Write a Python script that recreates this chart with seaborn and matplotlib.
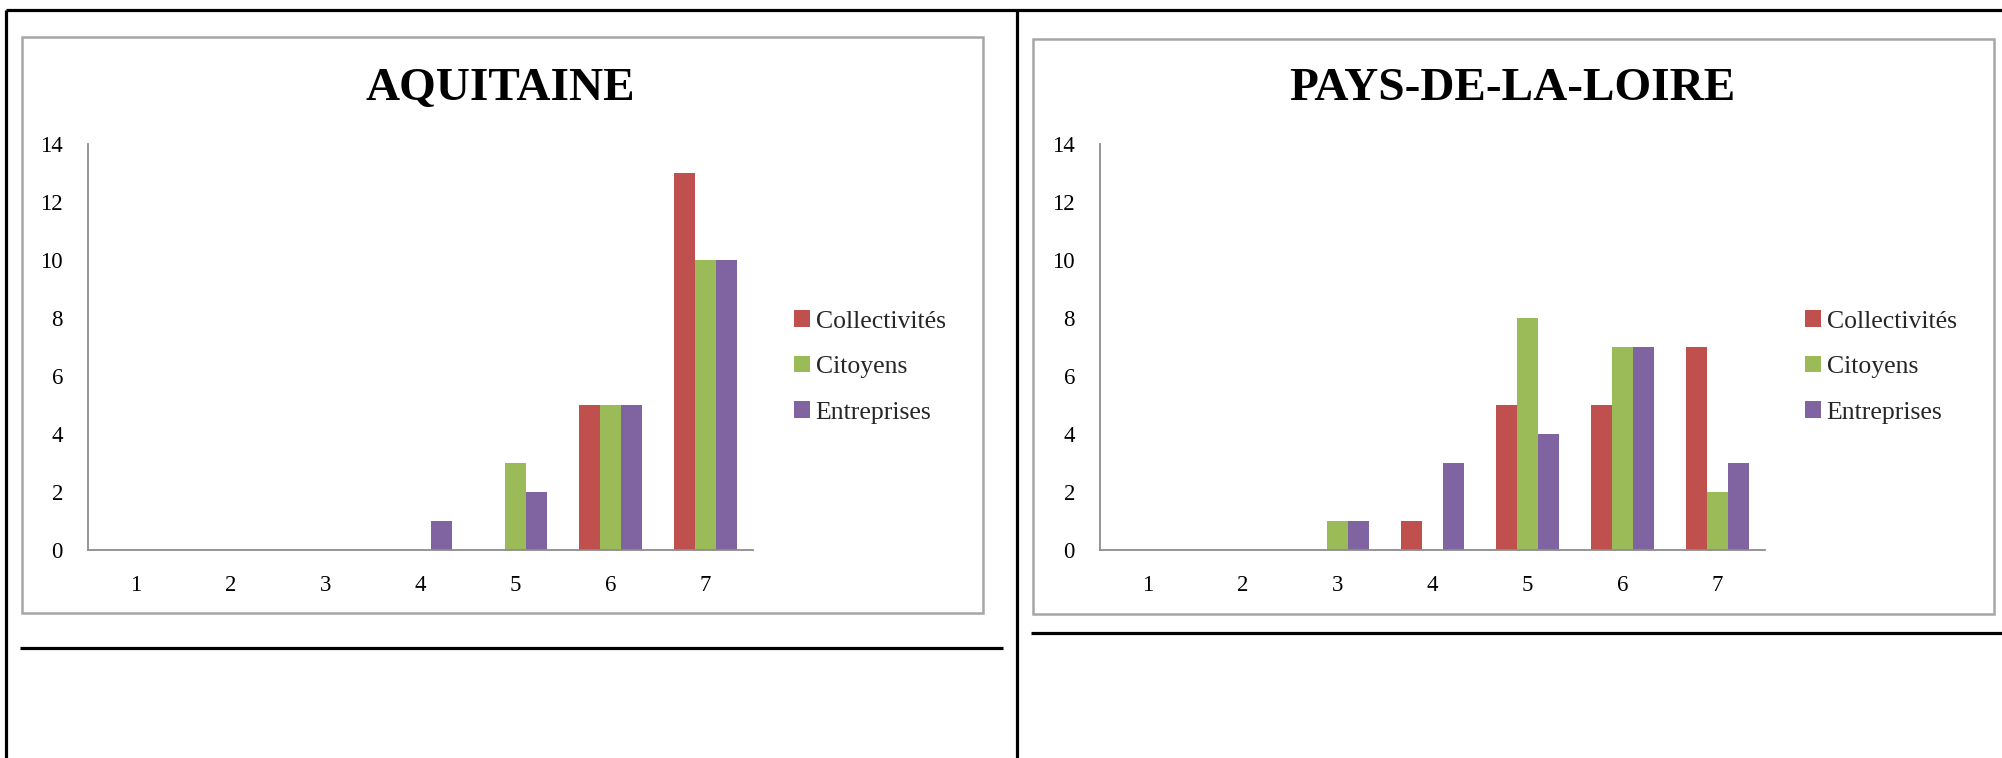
"""
Two grouped bar charts (Aquitaine / Pays-de-la-Loire) laid out like a scanned form.
"""

import pandas as pd
import matplotlib.pyplot as plt
import seaborn as sns
from matplotlib.lines import Line2D
from matplotlib.patches import Rectangle

# --- data -------------------------------------------------------------------
notes = ['1', '2', '3', '4', '5', '6', '7']
groupes = ['Collectivités', 'Citoyens', 'Entreprises']
colors = ['#C0504D', '#9BBB59', '#8064A2']

aquitaine_collectivites = [0, 0, 0, 0, 0, 5, 13]
aquitaine_citoyens = [0, 0, 0, 0, 3, 5, 10]
aquitaine_entreprises = [0, 0, 0, 1, 2, 5, 10]

loire_collectivites = [0, 0, 0, 1, 5, 5, 7]
loire_citoyens = [0, 0, 1, 0, 8, 7, 2]
loire_entreprises = [0, 0, 1, 3, 4, 7, 3]

titles = ['AQUITAINE', 'PAYS-DE-LA-LOIRE']
y_ticks = [0, 2, 4, 6, 8, 10, 12, 14]


def to_long(collectivites, citoyens, entreprises):
    rows = []
    for serie, values in zip(groupes, [collectivites, citoyens, entreprises]):
        for note, v in zip(notes, values):
            rows.append({'note': note, 'groupe': serie, 'count': v})
    return pd.DataFrame(rows)


panels = [
    to_long(aquitaine_collectivites, aquitaine_citoyens, aquitaine_entreprises),
    to_long(loire_collectivites, loire_citoyens, loire_entreprises),
]

# --- figure -----------------------------------------------------------------
sns.set_theme(style="white")
plt.rcParams['font.family'] = ['Liberation Serif', 'DejaVu Serif']

W, H = 2002, 758
fig = plt.figure(figsize=(W / 100, H / 100), dpi=100)
fig.patch.set_facecolor('white')


def fx(px):
    return px / W


def fy(py):
    return 1 - py / H


# outer form lines (black)
frame_lines = [
    ((6, 2002), (10, 10)),
    ((6, 6), (10, 758)),
    ((1017, 1017), (10, 758)),
    ((20, 1003), (648, 648)),
    ((1031, 2002), (633, 633)),
]
for xs, ys in frame_lines:
    fig.add_artist(Line2D([fx(x) for x in xs], [fy(y) for y in ys],
                          color='black', linewidth=2.3, solid_capstyle='butt'))

# grey chart boxes
boxes = [(22, 37, 983, 613), (1033, 39, 1994, 614)]
for x0, y0, x1, y1 in boxes:
    fig.add_artist(Rectangle((fx(x0), fy(y1)), fx(x1) - fx(x0), fy(y0) - fy(y1),
                             transform=fig.transFigure, fill=False,
                             edgecolor='#A6A6A6', linewidth=1.8))

axes_left = [88, 1100]
title_x = [500, 1512]
legend_x = [794, 1805]

for i, df in enumerate(panels):
    ax = fig.add_axes([fx(axes_left[i]), fy(550), fx(665), fy(144) - fy(550)])
    sns.barplot(data=df, x='note', y='count', hue='groupe', order=notes,
                hue_order=groupes, palette=colors, width=0.67, saturation=1,
                linewidth=0, ax=ax)
    ax.set_xlim(-0.5, 6.5)
    ax.set_ylim(0, 14)
    ax.set_yticks(y_ticks)
    ax.set_xlabel('')
    ax.set_ylabel('')
    sns.despine(ax=ax)
    for side in ['left', 'bottom']:
        ax.spines[side].set_color('#8C8C8C')
        ax.spines[side].set_linewidth(1.3)
    ax.tick_params(axis='y', length=0, pad=18, labelsize=16.5, labelcolor='black')
    ax.tick_params(axis='x', length=0, pad=18, labelsize=16.5, labelcolor='black')

    sns.move_legend(ax, loc='center left', bbox_to_anchor=(fx(legend_x[i]), fy(367)),
                    bbox_transform=fig.transFigure, frameon=False, title='',
                    fontsize=18.5, handlelength=0.62, handleheight=0.62,
                    handletextpad=0.22, labelspacing=0.9, borderpad=0,
                    borderaxespad=0)

    fig.text(fx(title_x[i]), fy(89), titles[i], ha='center', va='center',
             fontsize=34, fontweight='bold', color='black')

fig.savefig('out.png', dpi=100, facecolor='white')
plt.close(fig)
